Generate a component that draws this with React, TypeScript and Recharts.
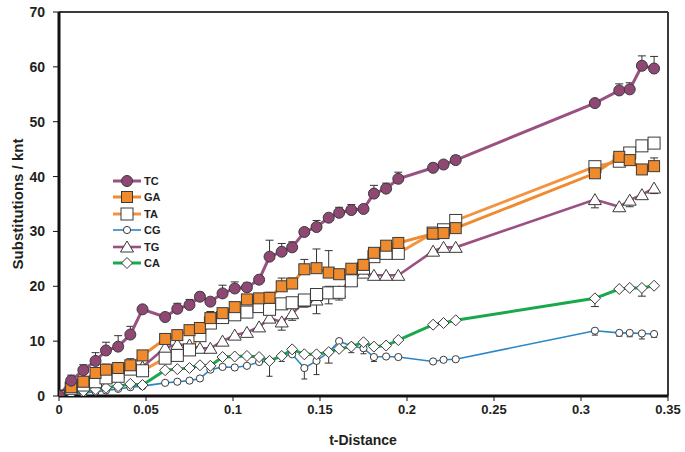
import { LineChart, Line, XAxis, YAxis, ErrorBar, ReferenceLine } from 'recharts';

const FONT = '"Liberation Sans", Arial, sans-serif';
const INK = '#231f20';

// t-distance of every sample (shared by all series)
const distances = [
  0, 0.007, 0.014, 0.021, 0.027, 0.034, 0.041, 0.048, 0.061, 0.068, 0.075, 0.081, 0.087,
  0.094, 0.101, 0.108, 0.115, 0.121, 0.128, 0.134, 0.141, 0.148, 0.155, 0.161, 0.168,
  0.175, 0.181, 0.188, 0.195, 0.215, 0.221, 0.228, 0.308, 0.322, 0.328, 0.335, 0.342,
];

const tcValues = [0, 2.8, 4.7, 6.4, 8.3, 9.0, 11.2, 15.8, 14.4, 15.9, 16.6, 18.1, 17.2, 18.7, 19.6, 19.8, 21.2, 25.4, 26.3, 27.1, 29.9, 30.8, 32.5, 33.4, 33.9, 34.1, 36.9, 37.8, 39.6, 41.6, 42.2, 43.0, 53.4, 55.7, 55.9, 60.2, 59.7];
const tcUp = [0, 1.0, 1.0, 1.5, 1.5, 2.0, 1.5, 0, 0, 1.0, 1.0, 0.8, 0, 1.5, 1.2, 0.8, 0, 3.0, 1.5, 1.0, 0, 1.2, 0, 1.0, 1.0, 0, 1.5, 1.0, 1.2, 0.8, 0, 0.8, 0, 1.2, 1.2, 1.8, 2.2];

const gaValues = [0, 1.6, 2.6, 4.2, 4.8, 5.1, 5.6, 7.4, 10.4, 11.1, 12.0, 12.4, 14.2, 15.1, 16.2, 17.6, 17.8, 17.9, 20.0, 20.5, 23.1, 23.3, 22.5, 22.2, 23.2, 23.9, 26.1, 27.4, 27.9, 29.6, 29.7, 30.6, 40.6, 43.6, 43.0, 41.3, 41.9];
const gaUp = [0, 0, 0.8, 0.5, 1.0, 1.0, 1.2, 0, 0, 0, 0, 0, 1.2, 0.8, 0.8, 0.8, 0.8, 1.0, 1.5, 1.0, 1.8, 3.5, 4.0, 0, 0.8, 1.0, 0, 0.6, 0.6, 0, 0, 0.6, 0, 0, 0.8, 0.8, 1.5];

const taValues = [0, 1.4, 2.0, 2.6, 3.3, 3.6, 4.9, 4.6, 6.9, 7.4, 8.4, 11.0, 13.3, 14.3, 14.8, 15.3, 16.3, 15.8, 16.8, 17.0, 17.5, 18.5, 18.8, 18.9, 21.0, 23.3, 25.4, 26.0, 26.0, 29.7, 30.3, 32.0, 41.8, 42.8, 44.3, 45.6, 46.1];
const taUp = [0, 0, 0, 0, 0, 0, 0, 0, 0, 0, 0, 0, 0, 0, 0, 0, 0, 0, 0, 0, 0, 0, 0, 0, 0, 0, 0, 0, 0, 0, 0, 0.6, 0, 0, 0.8, 0, 0];

const cgValues = [0, 0.3, 0.5, 0.8, 1.0, 1.3, 1.6, 1.8, 2.4, 2.6, 2.8, 3.2, 4.8, 5.3, 5.2, 5.5, 6.2, 6.4, 7.3, 7.6, 5.1, 6.4, 8.0, 10.0, 9.1, 8.7, 7.1, 7.2, 7.1, 6.3, 6.6, 6.7, 11.9, 11.5, 11.5, 11.4, 11.3];
const cgDown = [0, 0, 0, 0, 0, 0, 0, 0, 0, 0, 0, 0, 0, 0, 0, 0, 0, 2.8, 1.0, 0, 2.0, 2.5, 0, 0, 1.2, 1.0, 0.8, 0, 0, 0, 0, 0, 0.8, 0.6, 0.7, 1.0, 0.6];

const tgValues = [0, 1.5, 2.4, 2.6, 3.3, 4.2, 5.2, 5.3, 8.8, 9.4, 9.3, 8.7, 8.7, 10.0, 11.1, 11.6, 12.6, 14.2, 13.5, 15.0, 17.2, 17.5, 18.8, 19.0, 21.1, 22.4, 22.0, 22.0, 22.0, 26.4, 27.1, 27.1, 35.8, 34.5, 35.7, 36.7, 37.9];
const tgDown = [0, 0, 0, 0, 0, 0, 0, 0, 0, 1.5, 1.2, 0, 0, 0, 0, 0, 0, 0, 1.5, 1.2, 1.0, 2.5, 2.0, 1.5, 0, 0, 0, 0, 0, 0, 0, 0, 1.5, 0, 1.2, 0, 1.0];
const tgUp = [0, 0, 0, 0, 0, 0, 0, 0, 0, 0, 0, 0, 0, 0, 0, 0, 0, 0, 0, 1.2, 1.0, 1.5, 1.2, 0, 0, 0, 0, 0, 0, 0, 0, 0, 0, 0, 0, 0, 0];

const caValues = [0, 0.5, 0.9, 1.2, 1.5, 1.8, 2.2, 2.0, 4.7, 4.9, 5.1, 5.6, 5.5, 7.1, 7.2, 7.3, 7.1, 6.4, 7.3, 8.5, 7.6, 7.6, 8.0, 8.6, 9.0, 9.8, 9.0, 9.2, 10.2, 13.0, 13.3, 13.8, 17.8, 19.5, 19.7, 19.7, 20.1];
const caDown = [0, 0, 0, 0, 0, 0, 0, 0, 0, 0, 0, 0, 0, 0, 0, 0, 0, 0, 0, 0, 0, 0, 2.0, 0, 0, 0, 0, 0, 0, 0, 0, 0, 1.5, 0, 0, 1.5, 0];

const seriesNames = ['TC', 'GA', 'TA', 'CG', 'TG', 'CA'];
const xTicks = [0, 0.05, 0.1, 0.15, 0.2, 0.25, 0.3, 0.35];
const yTicks = [0, 10, 20, 30, 40, 50, 60, 70];

const bar = (down: number, up: number) => (down || up ? [down, up] : null);

const data = distances.map((x, i) => ({
  x,
  TC: tcValues[i],
  TCerr: bar(0, tcUp[i]),
  GA: gaValues[i],
  GAerr: bar(0, gaUp[i]),
  TA: taValues[i],
  TAerr: bar(0, taUp[i]),
  CG: cgValues[i],
  CGerr: bar(cgDown[i], 0),
  TG: tgValues[i],
  TGerr: bar(tgDown[i], tgUp[i]),
  CA: caValues[i],
  CAerr: bar(caDown[i], 0),
}));

const MARK = '#3a3a3a';

const style: Record<string, { line: string; width: number }> = {
  TC: { line: '#9b5082', width: 3 },
  GA: { line: '#f08a30', width: 3 },
  TA: { line: '#f5923e', width: 3 },
  CG: { line: '#2b86c5', width: 1.6 },
  TG: { line: '#9b5082', width: 2.6 },
  CA: { line: '#19a84b', width: 3 },
};

function Marker({ name, cx, cy }: { name: string; cx: number; cy: number }) {
  if (name === 'TC') return <circle cx={cx} cy={cy} r={5.5} fill="#8f4873" stroke={MARK} strokeWidth={1} />;
  if (name === 'GA') return <rect x={cx - 5.5} y={cy - 5.5} width={11} height={11} fill="#ef8a2d" stroke={MARK} strokeWidth={1} />;
  if (name === 'TA') return <rect x={cx - 6} y={cy - 6} width={12} height={12} fill="#fff" stroke={MARK} strokeWidth={1} />;
  if (name === 'CG') return <circle cx={cx} cy={cy} r={3.6} fill="#fff" stroke={MARK} strokeWidth={1} />;
  if (name === 'TG')
    return <polygon points={`${cx},${cy - 6} ${cx + 6.5},${cy + 5} ${cx - 6.5},${cy + 5}`} fill="#fff" stroke={MARK} strokeWidth={1} />;
  return <polygon points={`${cx},${cy - 5.5} ${cx + 5.5},${cy} ${cx},${cy + 5.5} ${cx - 5.5},${cy}`} fill="#fff" stroke={MARK} strokeWidth={1} />;
}

const dotFor = (name: string) => (p: any) => (
  <g key={`${name}-${p.index}`}>
    <Marker name={name} cx={p.cx} cy={p.cy} />
  </g>
);

const drawOrder = ['CG', 'CA', 'TG', 'TA', 'GA', 'TC'];

export default function App() {
  return (
    <div style={{ position: 'relative', width: 685, height: 452, fontFamily: FONT }}>
      <style>{'body{margin:0}'}</style>
      <LineChart width={685} height={452} data={data} margin={{ top: 12, right: 17, left: 9, bottom: 0 }}>
        <XAxis
          dataKey="x"
          type="number"
          domain={[0, 0.35]}
          ticks={xTicks}
          allowDataOverflow
          height={56}
          tickSize={5}
          tickMargin={4}
          axisLine={{ stroke: '#111', strokeWidth: 3 }}
          tickLine={{ stroke: '#111', strokeWidth: 1 }}
          tick={{ fill: INK, fontSize: 13, fontWeight: 'bold', fontFamily: FONT }}
          label={{
            content: () => (
              <text x={363} y={445} textAnchor="middle" fill={INK} fontSize={14} fontWeight="bold" fontFamily={FONT}>
                t-Distance
              </text>
            ),
          }}
        />
        <YAxis
          type="number"
          domain={[0, 70]}
          ticks={yTicks}
          allowDataOverflow
          width={50}
          tickSize={6}
          tickMargin={8}
          axisLine={{ stroke: '#111', strokeWidth: 3 }}
          tickLine={{ stroke: '#111', strokeWidth: 1 }}
          tick={{ fill: INK, fontSize: 14, fontWeight: 'bold', fontFamily: FONT }}
          label={{
            content: () => (
              <text
                x={19}
                y={204}
                transform="rotate(-90 19 204)"
                textAnchor="middle"
                dominantBaseline="middle"
                fill={INK}
                fontSize={15}
                fontWeight="bold"
                fontFamily={FONT}
              >
                Substitutions / knt
              </text>
            ),
          }}
        />
        <ReferenceLine y={70} stroke="#3a3a3a" strokeWidth={2} />
        <ReferenceLine x={0.35} stroke="#3a3a3a" strokeWidth={2} />
        {drawOrder.map((name) => (
          <Line
            key={name}
            type="linear"
            dataKey={name}
            stroke={style[name].line}
            strokeWidth={style[name].width}
            dot={dotFor(name)}
            activeDot={false}
            isAnimationActive={false}
          >
            <ErrorBar dataKey={`${name}err`} direction="y" width={name === 'CG' ? 3 : 4} stroke="#333" strokeWidth={1} />
          </Line>
        ))}
      </LineChart>
      {seriesNames.map((name, i) => (
        <div
          key={name}
          style={{ position: 'absolute', left: 112, top: 174 + i * 16.4, height: 14, display: 'flex', alignItems: 'center' }}
        >
          <svg width={30} height={14}>
            <line x1={1} y1={7} x2={29} y2={7} stroke={style[name].line} strokeWidth={style[name].width} />
            <Marker name={name} cx={15} cy={7} />
          </svg>
          <span style={{ marginLeft: 2, fontSize: 11, fontWeight: 'bold', color: INK }}>{name}</span>
        </div>
      ))}
    </div>
  );
}
